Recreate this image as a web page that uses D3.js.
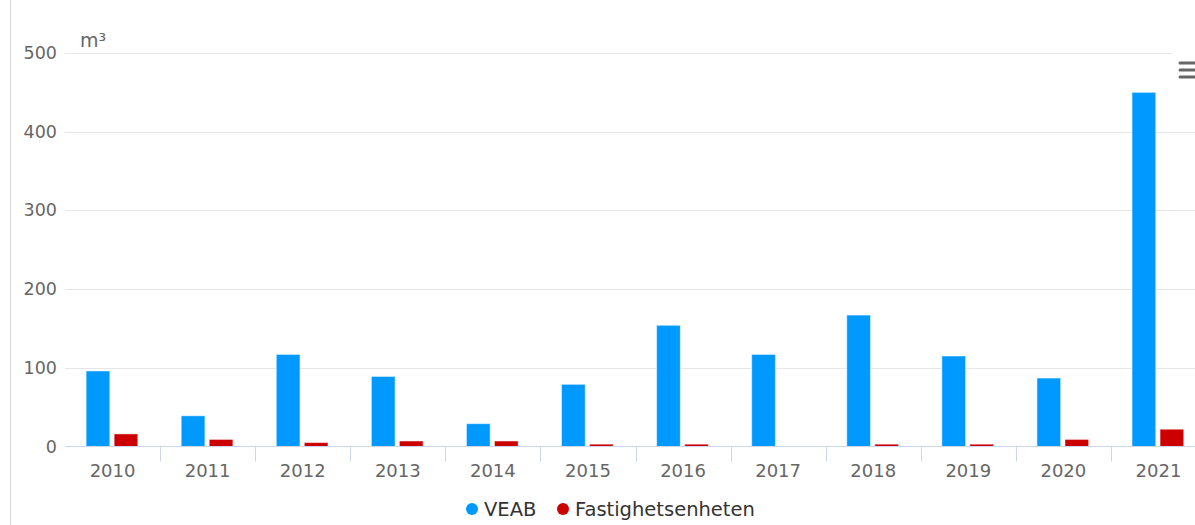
<!DOCTYPE html>
<html>
<head>
<meta charset="utf-8">
<script src="https://cdn.jsdelivr.net/npm/d3@7"></script>
<style>
  html, body { margin: 0; padding: 0; background: #fff; overflow: hidden; }
  svg { display: block; font-family: "DejaVu Sans", sans-serif; }
</style>
</head>
<body>
<div id="chart"></div>
<script>
// data
var years = ["2010","2011","2012","2013","2014","2015","2016","2017","2018","2019","2020","2021"];
var veab = [96, 39, 117, 89, 29, 79, 154, 117, 167, 115, 87, 450];
var fastighet = [16, 9, 5, 7, 7, 3, 3, 0, 3, 3, 9, 22];
var seriesNames = ["VEAB", "Fastighetsenheten"];
var seriesColors = ["#0099ff", "#cc0000"];
var yTicks = [0, 100, 200, 300, 400, 500];

var width = 1195, height = 525;
var plotLeft = 65, plotRight = 1206, plotTop = 53, plotBottom = 446.5;

var svg = d3.select("#chart").append("svg")
  .attr("width", width)
  .attr("height", height);

// left border line
svg.append("line")
  .attr("x1", 10.5).attr("x2", 10.5)
  .attr("y1", 0).attr("y2", height)
  .attr("stroke", "#d9d9d9");

var y = d3.scaleLinear().domain([0, 500]).range([plotBottom, plotTop]);
var x0 = d3.scaleBand().domain(years).range([plotLeft, plotRight]);
var bw = x0.bandwidth();
var x1 = d3.scaleBand().domain(seriesNames)
  .range([bw * 0.222, bw * 0.766])
  .paddingInner(0.154);

// gridlines
svg.append("g").selectAll("line")
  .data(yTicks.slice(1))
  .join("line")
  .attr("x1", plotLeft).attr("x2", width)
  .attr("y1", function(d){ return Math.round(y(d)) + 0.5; })
  .attr("y2", function(d){ return Math.round(y(d)) + 0.5; })
  .attr("stroke", "#e6e6e6");

// y labels
svg.append("g").selectAll("text")
  .data(yTicks)
  .join("text")
  .attr("x", 57)
  .attr("y", function(d){ return y(d) + 6; })
  .attr("text-anchor", "end")
  .attr("font-size", 17.5)
  .attr("fill", "#666")
  .text(function(d){ return d; });

// axis title
svg.append("text")
  .attr("x", 80).attr("y", 47)
  .attr("font-size", 19)
  .attr("fill", "#666")
  .text("m³");

// bars
var rows = years.map(function(yr, i){
  return { year: yr, vals: [veab[i], fastighet[i]] };
});

var groups = svg.append("g").selectAll("g")
  .data(rows)
  .join("g")
  .attr("transform", function(d){ return "translate(" + x0(d.year) + ",0)"; });

groups.selectAll("rect")
  .data(function(d){ return d.vals.map(function(v, j){ return { name: seriesNames[j], v: v, j: j }; }).filter(function(e){ return e.v > 0; }); })
  .join("rect")
  .attr("x", function(d){ return x1(d.name); })
  .attr("width", x1.bandwidth())
  .attr("y", function(d){ return y(d.v); })
  .attr("height", function(d){ return plotBottom - y(d.v); })
  .attr("fill", function(d){ return seriesColors[d.j]; })
  .attr("stroke", "#ffffff")
  .attr("stroke-opacity", 0.5)
  .attr("stroke-width", 1);

// x axis line
svg.append("line")
  .attr("x1", plotLeft).attr("x2", width)
  .attr("y1", plotBottom).attr("y2", plotBottom)
  .attr("stroke", "#ccd6eb");

// category ticks
svg.append("g").selectAll("line")
  .data(years.slice(1))
  .join("line")
  .attr("x1", function(d){ return Math.round(x0(d)) + 0.5; })
  .attr("x2", function(d){ return Math.round(x0(d)) + 0.5; })
  .attr("y1", plotBottom).attr("y2", plotBottom + 15)
  .attr("stroke", "#ccd6eb");

// x labels
svg.append("g").selectAll("text")
  .data(years)
  .join("text")
  .attr("x", function(d){ return x0(d) + bw / 2; })
  .attr("y", 477)
  .attr("text-anchor", "middle")
  .attr("font-size", 18)
  .attr("fill", "#666")
  .text(function(d){ return d; });

// legend
var legend = svg.append("g").attr("transform", "translate(472,509)");
var lx = [0, 91];
seriesNames.forEach(function(name, i){
  var g = legend.append("g").attr("transform", "translate(" + lx[i] + ",0)");
  g.append("circle").attr("r", 6).attr("cx", 0).attr("cy", 0).attr("fill", seriesColors[i]);
  g.append("text")
    .attr("x", 12).attr("y", 7)
    .attr("font-size", 19.5)
    .attr("fill", "#333")
    .text(name);
});

// menu icon
var menu = svg.append("g");
menu.append("rect")
  .attr("x", 1172).attr("y", 53).attr("width", 30).attr("height", 30)
  .attr("fill", "#fff");
[63, 70, 77].forEach(function(yy){
  menu.append("line")
    .attr("x1", 1180).attr("x2", 1200)
    .attr("y1", yy).attr("y2", yy)
    .attr("stroke", "#666")
    .attr("stroke-width", 3)
    .attr("stroke-linecap", "round");
});
</script>
</body>
</html>
